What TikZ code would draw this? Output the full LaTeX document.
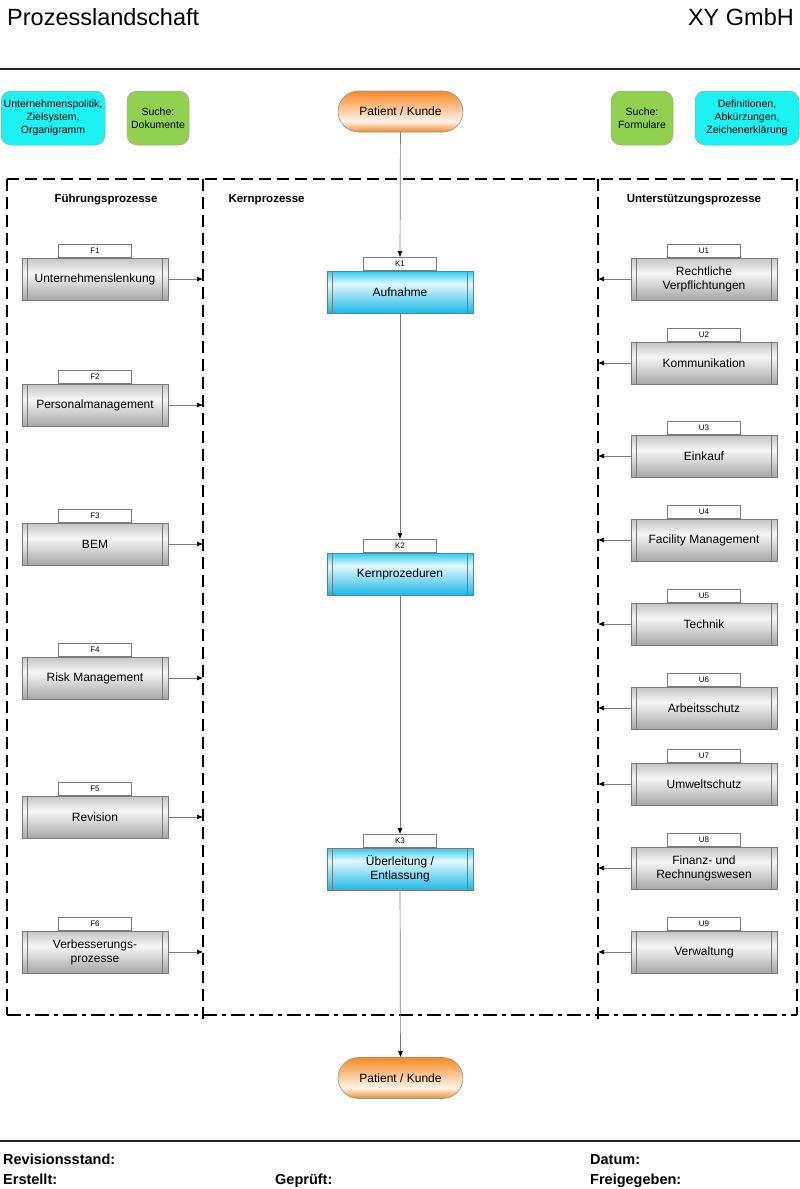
\documentclass[tikz,border=0pt]{standalone}
\usepackage{fontspec}
\setmainfont{Liberation Sans}
\usetikzlibrary{arrows.meta}
\definecolor{cyanT}{HTML}{1CF2F2}
\definecolor{greenT}{HTML}{92D050}
\definecolor{orgA}{HTML}{F58A24}
\definecolor{orgB}{HTML}{F2892A}
\definecolor{orgW}{HTML}{FFF4EA}
\definecolor{grA}{HTML}{C4C4C4}
\definecolor{grB}{HTML}{A6A6A6}
\definecolor{grW}{HTML}{F6F6F6}
\definecolor{cyA}{HTML}{30CCF2}
\definecolor{cyB}{HTML}{1CB8E6}
\definecolor{cyW}{HTML}{E2F8FE}
\definecolor{edge}{HTML}{7A7A7A}
\pgfdeclareverticalshading{grayproc}{100bp}{color(0bp)=(grB); color(25bp)=(grB); color(57bp)=(grW); color(75bp)=(grA); color(100bp)=(grA)}
\pgfdeclareverticalshading{cyanproc}{100bp}{color(0bp)=(cyB); color(25bp)=(cyB); color(60bp)=(cyW); color(75bp)=(cyA); color(100bp)=(cyA)}
\pgfdeclareverticalshading{orangeterm}{100bp}{color(0bp)=(orgB); color(25bp)=(orgB); color(38bp)=(orgW); color(75bp)=(orgA); color(100bp)=(orgA)}
\newcommand\procnode[6]{%
  \node[procbody, shading=#4] (#1) at (#2,#3) {#6};
  \node[tabbox, anchor=south] (#1t) at (#1.north) {#5};
  \draw[innerl] ([xshift=6pt]#1.north west) -- ([xshift=6pt]#1.south west);
  \draw[innerl] ([xshift=-6pt]#1.north east) -- ([xshift=-6pt]#1.south east);
}
\begin{document}
\begin{tikzpicture}[x=1pt,y=-1pt,
  procbody/.style={draw=edge, line width=0.6pt, minimum width=146pt, minimum height=42pt, inner sep=0pt, align=center, font=\fontsize{12}{14}\selectfont},
  tabbox/.style={draw=edge, line width=0.6pt, fill=white, minimum width=73pt, minimum height=13pt, inner sep=0pt, font=\fontsize{8}{9}\selectfont},
  innerl/.style={draw=edge, line width=0.6pt},
  topbox/.style={draw=edge!70, line width=0.5pt, rounded corners=10pt, inner sep=0pt, minimum height=54pt, align=center, font=\fontsize{10.5}{13}\selectfont},
  term/.style={draw=edge!80, line width=0.6pt, rounded corners=20.5pt, shading=orangeterm, minimum width=125pt, minimum height=41pt, inner sep=0pt, font=\fontsize{12}{14}\selectfont},
  conn/.style={draw=edge, line width=0.7pt, -{Latex[length=6pt,width=5pt,color=black]}},
  frame/.style={draw=black, line width=1.2pt, dash pattern=on 12pt off 6pt},
  frameb/.style={draw=black, line width=1.2pt, dash pattern=on 14pt off 5pt on 4pt off 5pt},
  sect/.style={font=\bfseries\fontsize{11.5}{13}\selectfont},
  foot/.style={anchor=base west, inner sep=0pt, font=\bfseries\fontsize{14.5}{16}\selectfont}
]
\useasboundingbox (0,0) rectangle (800,1189);
% header
\node[anchor=west, inner sep=0pt, font=\fontsize{23.5}{26}\selectfont] (title) at (7,17) {Prozesslandschaft};
\node[anchor=east, inner sep=0pt, font=\fontsize{23.5}{26}\selectfont] (company) at (794,17) {XY GmbH};
\draw[line width=1.3pt, draw=black!85] (0,69) -- (800,69);
% top boxes
\node[topbox, fill=cyanT, minimum width=104pt] (policy) at (53,118) {Unternehmenspolitik,\\Zielsystem,\\Organigramm};
\node[topbox, fill=greenT, minimum width=62pt] (docs) at (158,118) {Suche:\\Dokumente};
\node[topbox, fill=greenT, minimum width=62pt] (forms) at (642,118) {Suche:\\Formulare};
\node[topbox, fill=cyanT, minimum width=104pt] (defs) at (747,118) {Definitionen,\\Abkürzungen,\\Zeichenerklärung};
\node[term] (pk1) at (400.5,111.5) {Patient / Kunde};
\node[term] (pk2) at (400.5,1078) {Patient / Kunde};
% frame
\draw[frame] (7,179) -- (797,179);
\draw[frame] (7,179) -- (7,1015);
\draw[frame] (797,179) -- (797,1015);
\draw[frame] (203,179) -- (203,1020);
\draw[frame] (598,179) -- (598,1020);
\draw[frameb] (7,1015) -- (797,1015);
% section titles
\node[sect] (fh) at (106,200) {Führungsprozesse};
\node[sect, anchor=west] (kh) at (225,200) {Kernprozesse};
\node[sect] (uh) at (694,200) {Unterstützungsprozesse};
% F processes
\procnode{F1}{95}{279}{grayproc}{F1}{Unternehmenslenkung}
\procnode{F2}{95}{405}{grayproc}{F2}{Personalmanagement}
\procnode{F3}{95}{544}{grayproc}{F3}{BEM}
\procnode{F4}{95}{678}{grayproc}{F4}{Risk Management}
\procnode{F5}{95}{817}{grayproc}{F5}{Revision}
\procnode{F6}{95}{952}{grayproc}{F6}{Verbesserungs-\\prozesse}
% K processes
\procnode{K1}{400}{292}{cyanproc}{K1}{Aufnahme}
\procnode{K2}{400}{574}{cyanproc}{K2}{Kernprozeduren}
\procnode{K3}{400}{869}{cyanproc}{K3}{Überleitung /\\Entlassung}
% U processes
\procnode{U1}{704}{279}{grayproc}{U1}{Rechtliche\\Verpflichtungen}
\procnode{U2}{704}{363}{grayproc}{U2}{Kommunikation}
\procnode{U3}{704}{456}{grayproc}{U3}{Einkauf}
\procnode{U4}{704}{540}{grayproc}{U4}{Facility Management}
\procnode{U5}{704}{624}{grayproc}{U5}{Technik}
\procnode{U6}{704}{708}{grayproc}{U6}{Arbeitsschutz}
\procnode{U7}{704}{784}{grayproc}{U7}{Umweltschutz}
\procnode{U8}{704}{868}{grayproc}{U8}{Finanz- und\\Rechnungswesen}
\procnode{U9}{704}{952}{grayproc}{U9}{Verwaltung}
% core flow
\draw[conn] (pk1) -- (K1t);
\draw[conn] (K1) -- (K2t);
\draw[conn] (K2) -- (K3t);
\draw[conn] (K3) -- (pk2);
% F arrows
\foreach \n/\yy in {F1/279,F2/405,F3/544,F4/678,F5/817,F6/952}{
  \coordinate (\n e) at (203,\yy);
  \draw[conn] (\n) -- (\n e);
}
% U arrows
\foreach \n/\yy in {U1/279,U2/363,U3/456,U4/540,U5/624,U6/708,U7/784,U8/868,U9/952}{
  \coordinate (\n w) at (598,\yy);
  \draw[conn] (\n) -- (\n w);
}
% footer
\draw[line width=1.3pt, draw=black!85] (0,1141) -- (800,1141);
\node[foot] (rev) at (3,1164) {Revisionsstand:};
\node[foot] (dat) at (590,1164) {Datum:};
\node[foot] (ers) at (3,1184) {Erstellt:};
\node[foot] (gep) at (275,1184) {Geprüft:};
\node[foot] (frei) at (590,1184) {Freigegeben:};
\end{tikzpicture}
\end{document}
